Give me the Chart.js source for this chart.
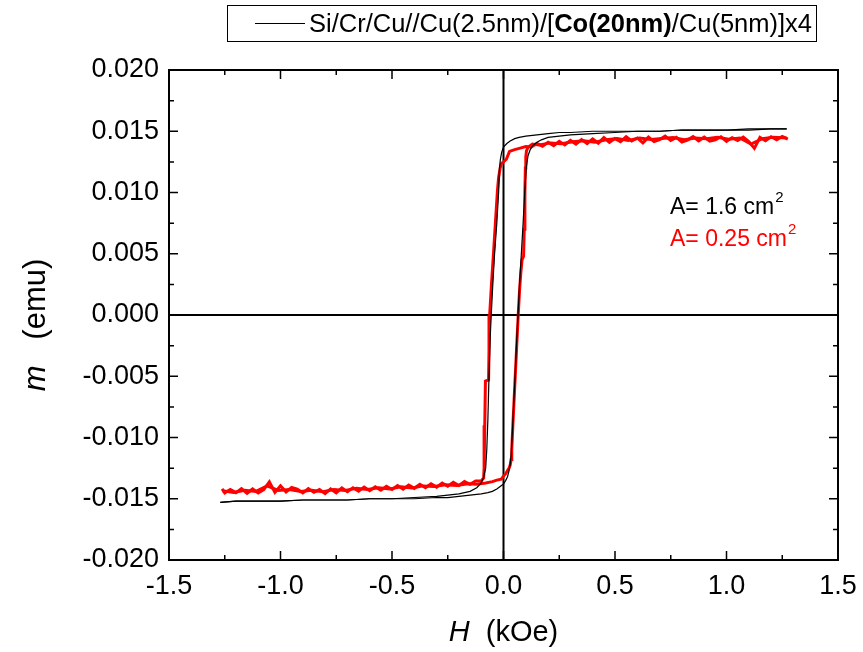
<!DOCTYPE html>
<html>
<head>
<meta charset="utf-8">
<script src="https://cdn.jsdelivr.net/npm/chart.js@4.4.0/dist/chart.umd.min.js"></script>
<style>
body { margin: 0; background: #fff; }
#wrap { width: 863px; height: 652px; position: relative; }
</style>
</head>
<body>
<div id="wrap"><canvas id="myChart"></canvas></div>
<script>
var FONT = "'Liberation Sans', Arial, sans-serif";

// tick labels
var xTicks = [-1.5, -1.0, -0.5, 0.0, 0.5, 1.0, 1.5];
var yTicks = [-0.020, -0.015, -0.010, -0.005, 0.000, 0.005, 0.010, 0.015, 0.020];
var xMinor = [-1.25, -0.75, -0.25, 0.25, 0.75, 1.25];
var yMinor = [-0.0175, -0.0125, -0.0075, -0.0025, 0.0025, 0.0075, 0.0125, 0.0175];

// black loop, A = 1.6 cm2 (descending branch, then ascending branch)
var blackDownH = [1.27, 1.2, 1.1, 1.0, 0.9, 0.8, 0.7, 0.6, 0.5, 0.4, 0.3, 0.25, 0.2, 0.15, 0.1, 0.07, 0.05, 0.03, 0.015,
  0.0, -0.008, -0.014, -0.018, -0.022, -0.03, -0.04, -0.048, -0.055, -0.06, -0.065, -0.07, -0.075, -0.08, -0.09, -0.1, -0.12, -0.15,
  -0.2, -0.3, -0.4, -0.5, -0.6, -0.7, -0.8, -0.9, -1.0, -1.1, -1.2, -1.27];
var blackDownM = [0.0152, 0.0152, 0.0151, 0.0151, 0.0151, 0.0151, 0.0150, 0.0150, 0.0150, 0.0150, 0.0149, 0.0149, 0.0148, 0.0147, 0.0146, 0.0145, 0.0144, 0.0142, 0.0140,
  0.0137, 0.0133, 0.0127, 0.0120, 0.0100, 0.0075, 0.0050, 0.0025, 0.0000, -0.0020, -0.0050, -0.0085, -0.0110, -0.0125, -0.0133, -0.0137, -0.0141, -0.0144,
  -0.0146, -0.0148, -0.0149, -0.0150, -0.0150, -0.0151, -0.0151, -0.0151, -0.0152, -0.0152, -0.0152, -0.0153];

var blackUpH = [-1.27, -1.2, -1.1, -1.0, -0.9, -0.8, -0.7, -0.6, -0.5, -0.4, -0.3, -0.25, -0.2, -0.15, -0.1, -0.07, -0.05, -0.03, -0.015,
  0.0, 0.01, 0.018, 0.025, 0.03, 0.035, 0.04, 0.045, 0.052, 0.058, 0.065, 0.072, 0.08, 0.088, 0.095, 0.102, 0.11, 0.12, 0.13, 0.15, 0.17,
  0.2, 0.3, 0.4, 0.5, 0.6, 0.7, 0.8, 0.9, 1.0, 1.1, 1.2, 1.27];
var blackUpM = [-0.0153, -0.0152, -0.0152, -0.0152, -0.0151, -0.0151, -0.0151, -0.0150, -0.0150, -0.0150, -0.0149, -0.0149, -0.0148, -0.0147, -0.0146, -0.0145, -0.0144, -0.0142, -0.0140,
  -0.0138, -0.0135, -0.0132, -0.0127, -0.0122, -0.0112, -0.0095, -0.0075, -0.0050, -0.0025, 0.0000, 0.0025, 0.0050, 0.0075, 0.0100, 0.0120, 0.0130, 0.0135, 0.0138, 0.0141, 0.0143,
  0.0145, 0.0147, 0.0148, 0.0149, 0.0150, 0.0150, 0.0151, 0.0151, 0.0151, 0.0152, 0.0152, 0.0152];

// red loop, A = 0.25 cm2
var redDownH = [1.275, 1.25, 1.225, 1.2, 1.175, 1.15, 1.125, 1.1, 1.075, 1.05, 1.025, 1.0, 0.975, 0.95, 0.925, 0.9,
  0.875, 0.85, 0.825, 0.8, 0.775, 0.75, 0.725, 0.7, 0.675, 0.65, 0.625, 0.6, 0.575, 0.55, 0.525, 0.5,
  0.475, 0.45, 0.425, 0.4, 0.375, 0.35, 0.325, 0.3, 0.275, 0.25, 0.225, 0.2, 0.175, 0.15, 0.125,
  0.1, 0.075, 0.05, 0.027, 0.013, 0.0, -0.009, -0.015, -0.022, -0.027, -0.036, -0.045, -0.054, -0.062, -0.065, -0.067, -0.081, -0.084, -0.087, -0.089, -0.1,
  -0.125, -0.15, -0.175, -0.2, -0.225, -0.25, -0.275, -0.3, -0.325, -0.35, -0.375, -0.4, -0.425, -0.45, -0.475, -0.5,
  -0.525, -0.55, -0.575, -0.6, -0.625, -0.65, -0.675, -0.7, -0.725, -0.75, -0.775, -0.8, -0.825, -0.85, -0.875, -0.9,
  -0.925, -0.95, -0.975, -1.0, -1.025, -1.05, -1.075, -1.1, -1.125, -1.15, -1.175, -1.2, -1.225, -1.25, -1.262];
var redDownM = [0.01435, 0.01458, 0.01430, 0.01455, 0.01422, 0.01450, 0.01360, 0.01415, 0.01452, 0.01425, 0.01448, 0.01418, 0.01455, 0.01430, 0.01420, 0.01452,
  0.01422, 0.01456, 0.01428, 0.01412, 0.01450, 0.01424, 0.01460, 0.01432, 0.01415, 0.01452, 0.01405, 0.01445, 0.01420, 0.01455, 0.01415, 0.01440,
  0.01410, 0.01448, 0.01402, 0.01438, 0.01400, 0.01432, 0.01395, 0.01425, 0.01388, 0.01418, 0.01382, 0.01410, 0.01378, 0.01400, 0.01372,
  0.01375, 0.01362, 0.01350, 0.01335, 0.01272, 0.01250, 0.01238, 0.01200, 0.01120, 0.01020, 0.00760, 0.00500, 0.00250, 0.00000, -0.00300, -0.00530, -0.00540, -0.00900, -0.01250, -0.01330, -0.01355,
  -0.01355, -0.01382, -0.01360, -0.01392, -0.01365, -0.01398, -0.01372, -0.01405, -0.01378, -0.01410, -0.01382, -0.01415, -0.01388, -0.01422, -0.01392, -0.01425,
  -0.01398, -0.01430, -0.01402, -0.01435, -0.01405, -0.01438, -0.01410, -0.01442, -0.01412, -0.01452, -0.01420, -0.01458, -0.01425, -0.01448, -0.01418, -0.01452,
  -0.01422, -0.01408, -0.01445, -0.01395, -0.01448, -0.01362, -0.01425, -0.01452, -0.01420, -0.01455, -0.01418, -0.01450, -0.01425, -0.01452, -0.01420];

var redUpH = [-1.26, -1.21, -1.16, -1.11, -1.06, -1.01, -0.96, -0.91, -0.86, -0.81, -0.76, -0.71, -0.66, -0.61, -0.56, -0.51,
  -0.46, -0.41, -0.36, -0.31, -0.26, -0.21, -0.16, -0.12, -0.08, -0.05, -0.03, -0.01,
  0.0, 0.01, 0.018, 0.025, 0.03, 0.034, 0.037, 0.042, 0.05, 0.058, 0.066, 0.072, 0.077, 0.083, 0.09, 0.093, 0.096, 0.098, 0.1, 0.103, 0.11,
  0.13, 0.16, 0.21, 0.26, 0.31, 0.36, 0.41, 0.46, 0.51, 0.56, 0.61, 0.66, 0.71, 0.76, 0.81, 0.86, 0.91, 0.96, 1.01, 1.06, 1.11, 1.16, 1.21, 1.27];
var redUpM = [-0.01435, -0.01448, -0.01430, -0.01440, -0.01395, -0.01432, -0.01425, -0.01440, -0.01430, -0.01442, -0.01425, -0.01432, -0.01415, -0.01425, -0.01410, -0.01420,
  -0.01402, -0.01412, -0.01395, -0.01400, -0.01385, -0.01392, -0.01378, -0.01382, -0.01372, -0.01360, -0.01348, -0.01340,
  -0.01315, -0.01295, -0.01270, -0.01250, -0.01225, -0.01180, -0.01100, -0.00900, -0.00600, -0.00300, 0.00000, 0.00200, 0.00330, 0.00450, 0.00480, 0.00700, 0.01000, 0.01200, 0.01290, 0.01340, 0.01370,
  0.01395, 0.01388, 0.01405, 0.01398, 0.01415, 0.01422, 0.01410, 0.01430, 0.01440, 0.01425, 0.01445, 0.01432, 0.01440, 0.01448, 0.01430, 0.01445, 0.01438, 0.01450, 0.01435, 0.01445, 0.01395, 0.01440, 0.01450, 0.01445];

function pts(h, m) {
  return h.map(function (v, i) { return { x: v, y: m[i] }; });
}

function line(data, color, width) {
  return { data: data, borderColor: color, borderWidth: width, showLine: true, pointRadius: 0, fill: false, tension: 0 };
}

// text pieces drawn with mixed styles
function drawPieces(ctx, pieces, x, y, align) {
  var total = 0;
  pieces.forEach(function (p) { ctx.font = p.f; total += ctx.measureText(p.t).width; });
  var cx = align === 'center' ? x - total / 2 : x;
  pieces.forEach(function (p) {
    ctx.font = p.f;
    ctx.fillText(p.t, cx, y);
    cx += ctx.measureText(p.t).width;
  });
}

var decor = {
  id: 'decor',
  beforeDatasetsDraw: function (chart) {
    var ctx = chart.ctx, xs = chart.scales.x, ys = chart.scales.y, a = chart.chartArea;
    ctx.save();
    ctx.strokeStyle = '#000';
    ctx.lineWidth = 2;
    ctx.beginPath();
    var x0 = xs.getPixelForValue(0), y0 = ys.getPixelForValue(0);
    ctx.moveTo(x0, a.top); ctx.lineTo(x0, a.bottom);
    ctx.moveTo(a.left, y0); ctx.lineTo(a.right, y0);
    ctx.stroke();
    ctx.restore();
  },
  afterDatasetsDraw: function (chart) {
    var ctx = chart.ctx, xs = chart.scales.x, ys = chart.scales.y, a = chart.chartArea;
    ctx.save();
    ctx.strokeStyle = '#000';
    ctx.lineWidth = 2;
    ctx.strokeRect(a.left, a.top, a.right - a.left, a.bottom - a.top);

    // inward ticks on all four sides
    ctx.lineWidth = 1.5;
    ctx.beginPath();
    function xt(v, len) {
      var p = xs.getPixelForValue(v);
      ctx.moveTo(p, a.bottom); ctx.lineTo(p, a.bottom - len);
      ctx.moveTo(p, a.top); ctx.lineTo(p, a.top + len);
    }
    function yt(v, len) {
      var p = ys.getPixelForValue(v);
      ctx.moveTo(a.left, p); ctx.lineTo(a.left + len, p);
      ctx.moveTo(a.right, p); ctx.lineTo(a.right - len, p);
    }
    xTicks.forEach(function (v) { xt(v, 9); });
    xMinor.forEach(function (v) { xt(v, 5); });
    yTicks.forEach(function (v) { yt(v, 9); });
    yMinor.forEach(function (v) { yt(v, 5); });
    ctx.stroke();

    // legend box
    ctx.lineWidth = 1;
    ctx.strokeRect(227.5, 5.5, 589, 36);
    ctx.beginPath();
    ctx.moveTo(255, 23.5); ctx.lineTo(305, 23.5);
    ctx.stroke();
    ctx.fillStyle = '#000';
    ctx.textBaseline = 'alphabetic';
    ctx.textAlign = 'left';
    drawPieces(ctx, [
      { t: 'Si/Cr/Cu//Cu(2.5nm)/[', f: '25.5px ' + FONT },
      { t: 'Co(20nm)', f: 'bold 25.5px ' + FONT },
      { t: '/Cu(5nm)]x4', f: '25.5px ' + FONT }
    ], 309, 32, 'left');

    // area annotations
    ctx.font = '23px ' + FONT;
    ctx.fillText('A= 1.6 cm', 670, 214);
    var w1 = ctx.measureText('A= 1.6 cm').width;
    ctx.font = '15px ' + FONT;
    ctx.fillText('2', 670 + w1 + 1, 202);
    ctx.fillStyle = '#ff0000';
    ctx.font = '23px ' + FONT;
    ctx.fillText('A= 0.25 cm', 670, 246);
    var w2 = ctx.measureText('A= 0.25 cm').width;
    ctx.font = '15px ' + FONT;
    ctx.fillText('2', 670 + w2 + 1, 234);

    // axis titles
    ctx.fillStyle = '#000';
    ctx.textBaseline = 'middle';
    drawPieces(ctx, [
      { t: 'H', f: 'italic 29px ' + FONT },
      { t: '  (kOe)', f: '29px ' + FONT }
    ], xs.getPixelForValue(0), 633, 'center');
    ctx.translate(36, ys.getPixelForValue(0) + 10);
    ctx.rotate(-Math.PI / 2);
    drawPieces(ctx, [
      { t: 'm', f: 'italic 31px ' + FONT },
      { t: '   (emu)', f: '31px ' + FONT }
    ], 0, 0, 'center');
    ctx.restore();
  }
};

var myChart = document.getElementById('myChart').getContext('2d');

var chart = new Chart(myChart, {
  type: 'scatter',
  data: {
    datasets: [
      line(pts(blackDownH, blackDownM), '#000000', 1.2),
      line(pts(blackUpH, blackUpM), '#000000', 1.2),
      line(pts(redDownH, redDownM), '#ff0000', 3),
      line(pts(redUpH, redUpM), '#ff0000', 3)
    ]
  },
  options: {
    responsive: true,
    maintainAspectRatio: false,
    animation: false,
    layout: { padding: { left: 0, top: 70, right: 25, bottom: 0 } },
    plugins: { legend: { display: false }, tooltip: { enabled: false } },
    scales: {
      x: {
        type: 'linear', min: -1.5, max: 1.5,
        afterBuildTicks: function (s) { s.ticks = xTicks.map(function (v) { return { value: v }; }); },
        afterFit: function (s) { s.height = 92; s.paddingLeft = 0; s.paddingRight = 0; },
        grid: { display: false, drawTicks: false },
        border: { display: false },
        ticks: {
          color: '#000', padding: 10, maxRotation: 0, autoSkip: false,
          font: { family: FONT, size: 27 },
          callback: function (v) { return Number(v).toFixed(1); }
        }
      },
      y: {
        type: 'linear', min: -0.02, max: 0.02,
        afterBuildTicks: function (s) { s.ticks = yTicks.map(function (v) { return { value: v }; }); },
        afterFit: function (s) { s.width = 169; s.paddingTop = 0; s.paddingBottom = 0; },
        grid: { display: false, drawTicks: false },
        border: { display: false },
        ticks: {
          color: '#000', padding: 10, autoSkip: false,
          font: { family: FONT, size: 27 },
          callback: function (v) { return Number(v).toFixed(3); }
        }
      }
    }
  },
  plugins: [decor]
});
</script>
</body>
</html>
